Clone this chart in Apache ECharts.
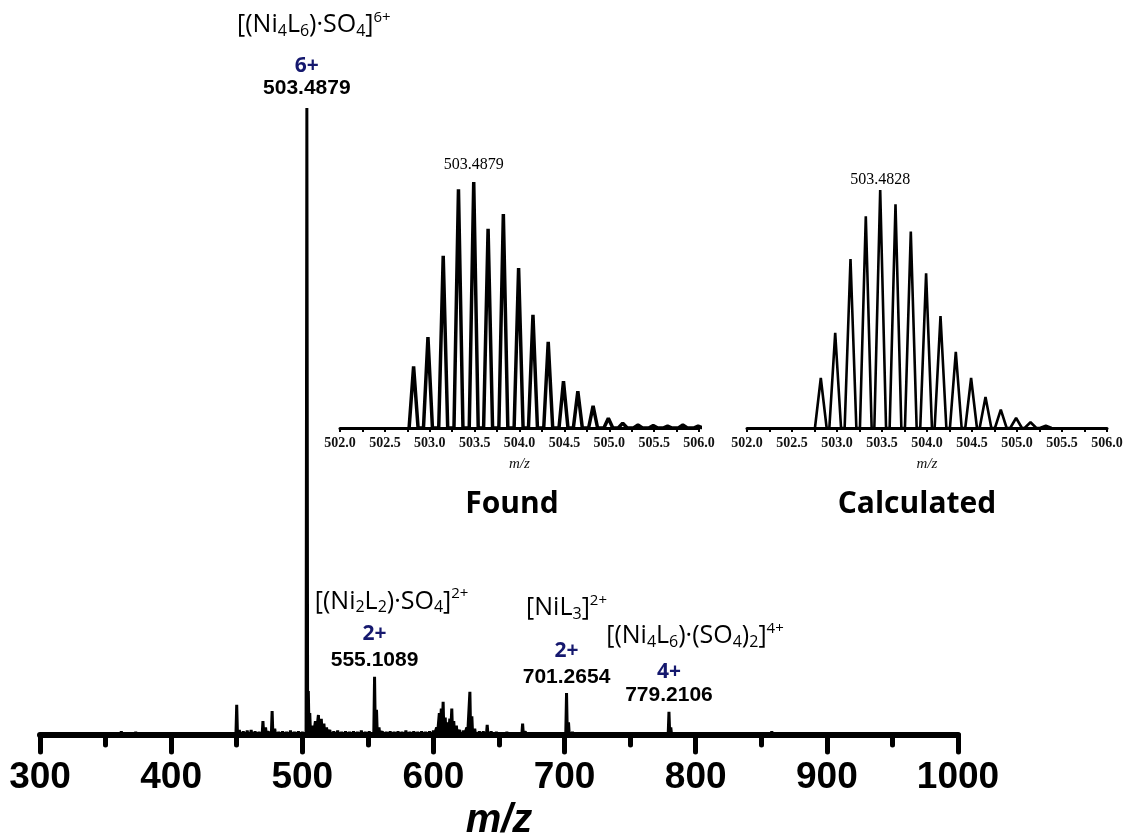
<!DOCTYPE html>
<html lang="en">
<head>
<meta charset="UTF-8">
<title>ESI-MS Ni4L6 cage</title>
<script src="https://cdn.jsdelivr.net/npm/echarts@6/dist/echarts.min.js"></script>
<style>
  html, body { margin: 0; padding: 0; background: #fff; }
  #main { width: 1125px; height: 836px; }
</style>
</head>
<body>
<div id="main"></div>
<script>
// full spectrum, m/z vs relative intensity (%)
var mainMz = [352, 357, 362, 367, 373, 380,
  450, 452, 455, 458, 461, 464, 467, 470, 472, 474, 477, 479, 482, 485, 488, 491, 494, 497, 500,
  503.49, 504.6, 505.7, 508, 510, 512.3, 514.5, 516.5, 518.5, 521, 524, 527, 530, 533, 536, 539, 542, 545, 548, 551,
  555.11, 556.6, 558.5, 561, 564, 567, 570, 573, 576, 579, 582, 585, 588, 591, 594, 597, 600,
  602.5, 604.5, 606, 607.4, 609, 611, 612.5, 614, 615.5, 617.5, 620, 623, 625.5, 627.8, 629.3, 631.5,
  635, 638, 641, 644, 648, 652, 656, 660, 664, 668, 670, 675, 680, 686, 692, 697,
  701.5, 703, 706, 712, 720, 730, 779.6, 781, 858];
var mainInt = [0.3, 0.4, 0.6, 0.3, 0.5, 0.3,
  4.8, 0.8, 0.6, 0.7, 0.8, 0.6, 0.5, 2.2, 1.2, 0.6, 3.8, 1.0, 0.5, 0.6, 0.5, 0.7, 0.5, 0.6, 0.5,
  100, 7, 3.5, 1.5, 2.2, 3.2, 2.6, 1.8, 1.2, 0.8, 0.6, 0.7, 0.5, 0.6, 0.5, 0.6, 0.5, 0.7, 0.5, 0.6,
  9.3, 4, 1.2, 0.6, 0.5, 0.6, 0.5, 0.6, 0.5, 0.7, 0.5, 0.6, 0.5, 0.6, 0.5, 0.6, 0.7,
  1.2, 3.5, 4.2, 5.3, 2.8, 2, 2.6, 4.2, 2.2, 1.5, 0.8, 0.7, 1.2, 6.9, 3, 1,
  0.6, 0.6, 1.6, 0.6, 0.5, 0.4, 0.5, 0.4, 0.4, 1.8, 0.6, 0.4, 0.4, 0.4, 0.4, 0.4,
  6.7, 2, 0.5, 0.3, 0.3, 0.3, 3.7, 1.2, 0.6];

// isotope pattern of the 6+ ion, found
var foundMz = [502.82, 502.98, 503.15, 503.32, 503.49, 503.65, 503.82, 503.99, 504.15, 504.32,
  504.49, 504.65, 504.82, 504.99, 505.15, 505.32, 505.49, 505.65, 505.82, 505.99];
var foundInt = [25, 37, 70, 97, 100, 81, 87, 65, 46, 35, 19, 15, 9, 4, 2, 1.2, 1, 0.8, 1.2, 0.8];

// isotope pattern, calculated
var calcMz = [502.82, 502.98, 503.15, 503.32, 503.48, 503.65, 503.82, 503.99, 504.15, 504.32,
  504.49, 504.65, 504.82, 504.99, 505.15, 505.32];
var calcInt = [21, 40, 71, 89, 100, 94, 82.5, 65, 47, 32, 21, 13, 7.7, 4.2, 2.4, 1];

// peak annotations
var annMz = [503.49, 555.11, 701.5, 779.6];
var annInt = [100, 9.3, 6.7, 3.7];
var annFormula = [
  '{fa|[(Ni}{sub|4}{f|L}{sub|6}{f|)·SO}{sub|4}{f|]}{sup|6+}',
  '{fb|[(Ni}{sub|2}{f|L}{sub|2}{f|)·SO}{sub|4}{f|]}{sup|2+}',
  '{f|[NiL}{sub|3}{f|]}{sup|2+}',
  '{fd|[(Ni}{sub|4}{f|L}{sub|6}{f|)·(SO}{sub|4}{f|)}{sub|2}{f|]}{sup|4+}'
];
var annCharge = ['6+', '2+', '2+', '4+'];
var annValue = ['503.4879', '555.1089', '701.2654', '779.2106'];
var insetTop = ['503.4879', '503.4828'];

function spikes(mz, inten, w) {
  var out = [];
  for (var i = 0; i < mz.length; i++) {
    out.push([mz[i] - w, 0], [mz[i], inten[i]], [mz[i] + w, 0]);
  }
  return out;
}

// line heights (formula, charge, value) and distance for each annotation
var annLayout = [
  { l: [60, 22, 22], d: 9 },
  { l: [36, 28, 26], d: 3 },
  { l: [60, 26, 26], d: 3 },
  { l: [49, 23, 23], d: 5 }
];

function makeRich(l) {
  var sans = '"Open Sans", "Liberation Sans", sans-serif';
  var base = { fontSize: 25, fontFamily: sans, color: '#000', lineHeight: l[0] };
  return {
    f: base,
    fa: Object.assign({}, base, { padding: [0, 0, 0, 14] }),
    fb: Object.assign({}, base, { padding: [0, 0, 0, 34] }),
    fd: Object.assign({}, base, { padding: [0, 0, 0, 52] }),
    sub: { fontSize: 16, fontFamily: sans, color: '#000', lineHeight: l[0], padding: [12, 0, 0, 0] },
    sup: { fontSize: 15, fontFamily: sans, color: '#000', lineHeight: l[0], padding: [0, 0, 15, 0] },
    c: { fontSize: 21, fontWeight: 'bold', fontFamily: sans, color: '#15186e', lineHeight: l[1] },
    n: { fontSize: 21, fontWeight: 'bold', fontFamily: '"Liberation Sans", Arial, sans-serif', color: '#000', lineHeight: l[2] }
  };
}

var annData = annMz.map(function (m, i) {
  return {
    value: [m, annInt[i]],
    label: {
      show: true,
      position: 'top',
      distance: annLayout[i].d,
      align: 'center',
      formatter: annFormula[i] + '\n{c|' + annCharge[i] + '}\n{n|' + annValue[i] + '}',
      rich: makeRich(annLayout[i].l)
    }
  };
});

var chart = echarts.init(document.getElementById('main'));

var insetAxis = function (idx) {
  return {
    type: 'value', gridIndex: idx, min: 502, max: 506, interval: 0.5,
    name: 'm/z', nameLocation: 'middle', nameGap: 29,
    nameTextStyle: { fontFamily: '"Liberation Serif", serif', fontStyle: 'italic', fontSize: 15, color: '#111' },
    axisLine: { lineStyle: { color: '#000', width: 3 } },
    axisTick: { show: true, length: 4, lineStyle: { color: '#000', width: 2 } },
    minorTick: { show: true, splitNumber: 2, length: 4, lineStyle: { color: '#000', width: 2 } },
    splitLine: { show: false },
    axisLabel: {
      margin: 8, fontSize: 14, fontWeight: 'bold', color: '#111',
      fontFamily: '"Liberation Serif", serif',
      formatter: function (v) { return v.toFixed(1); }
    }
  };
};

var option = {
  backgroundColor: '#fff',
  animation: false,
  title: [
    { text: 'Found', left: 507, top: 484, textAlign: 'center',
      textStyle: { fontSize: 30, fontWeight: 'bold', fontFamily: '"Open Sans", sans-serif', color: '#000' } },
    { text: 'Calculated', left: 912, top: 484, textAlign: 'center',
      textStyle: { fontSize: 30, fontWeight: 'bold', fontFamily: '"Open Sans", sans-serif', color: '#000' } }
  ],
  grid: [
    { left: 40, right: 167, top: 108, bottom: 101, outerBoundsMode: 'none' },
    { left: 340, right: 426, top: 182, bottom: 408, outerBoundsMode: 'none' },
    { left: 747, right: 18, top: 190, bottom: 408, outerBoundsMode: 'none' }
  ],
  xAxis: [
    {
      type: 'value', gridIndex: 0, min: 300, max: 1000, interval: 100,
      name: 'm/z', nameLocation: 'middle', nameGap: 56,
      nameTextStyle: { fontSize: 40, fontWeight: 'bold', fontStyle: 'italic', fontFamily: '"Liberation Sans", Arial, sans-serif', color: '#000' },
      axisLine: { lineStyle: { color: '#000', width: 6 } },
      axisTick: { show: true, length: 17, lineStyle: { color: '#000', width: 5, cap: 'round' } },
      minorTick: { show: true, splitNumber: 2, length: 10, lineStyle: { color: '#000', width: 5, cap: 'round' } },
      splitLine: { show: false },
      axisLabel: { margin: 24, fontSize: 37, fontWeight: 'bold', color: '#000',
        fontFamily: '"Liberation Sans Narrow", "Arial Narrow", "Liberation Sans", sans-serif',
        formatter: function (v) { return String(v); } }
    },
    insetAxis(1),
    insetAxis(2)
  ],
  yAxis: [
    { type: 'value', gridIndex: 0, min: 0, max: 100, show: false },
    { type: 'value', gridIndex: 1, min: 0, max: 100, show: false },
    { type: 'value', gridIndex: 2, min: 0, max: 100, show: false }
  ],
  series: [
    {
      type: 'line', xAxisIndex: 0, yAxisIndex: 0, symbol: 'none', z: 3,
      lineStyle: { color: '#000', width: 3, join: 'bevel' },
      data: spikes(mainMz, mainInt, 0.6)
    },
    {
      type: 'line', xAxisIndex: 1, yAxisIndex: 1, symbol: 'none',
      lineStyle: { color: '#000', width: 3.5, join: 'bevel' },
      data: spikes(foundMz, foundInt, 0.05)
    },
    {
      type: 'line', xAxisIndex: 2, yAxisIndex: 2, symbol: 'none',
      lineStyle: { color: '#000', width: 2.6, join: 'bevel' },
      data: spikes(calcMz, calcInt, 0.065)
    },
    {
      type: 'scatter', xAxisIndex: 0, yAxisIndex: 0, symbolSize: 0, z: 5,
      itemStyle: { opacity: 1 },
      data: annData
    },
    {
      type: 'scatter', xAxisIndex: 1, yAxisIndex: 1, symbolSize: 0,
      itemStyle: { opacity: 1 },
      data: [{ value: [503.49, 100], label: { show: true, position: 'top', distance: 9, formatter: insetTop[0],
        fontSize: 16, color: '#000', fontFamily: '"Liberation Serif", serif' } }]
    },
    {
      type: 'scatter', xAxisIndex: 2, yAxisIndex: 2, symbolSize: 0,
      itemStyle: { opacity: 1 },
      data: [{ value: [503.48, 100], label: { show: true, position: 'top', distance: 2, formatter: insetTop[1],
        fontSize: 16, color: '#000', fontFamily: '"Liberation Serif", serif' } }]
    }
  ]
};

chart.setOption(option);
</script>
</body>
</html>
